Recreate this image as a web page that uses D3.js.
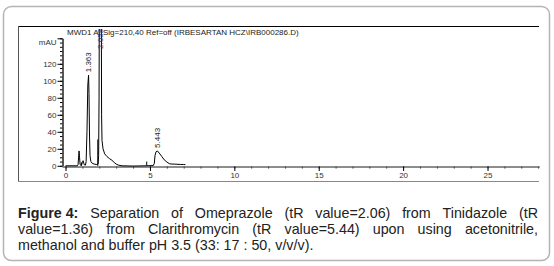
<!DOCTYPE html>
<html>
<head>
<meta charset="utf-8">
<script src="https://cdn.jsdelivr.net/npm/d3@7"></script>
<style>
  body{margin:0;background:#fff}
  svg{display:block;font-family:"Liberation Sans",Arial,sans-serif}
</style>
</head>
<body>
<svg id="chart"></svg>
<script>
// retention time (min) and signal (mAU)
const times = [0, 0.70, 0.74, 0.78, 0.80, 0.83, 0.86, 0.90, 0.95, 1.00, 1.04, 1.08, 1.12, 1.18,
  1.22, 1.27, 1.32, 1.363, 1.39, 1.42, 1.45, 1.50, 1.58, 1.70, 1.85, 1.93, 1.96, 1.985, 2.00,
  2.12, 2.135, 2.16, 2.22, 2.32, 2.45, 2.60, 2.75, 2.88, 3.00, 3.15, 3.35, 4.00, 4.80, 5.20,
  5.26, 5.30, 5.36, 5.443, 5.55, 5.70, 5.85, 6.00, 6.15, 6.30, 6.45, 6.60, 6.80, 7.00, 7.10]
const signal = [0, 0, 1, 12, 17.5, 10, 2, 0.5, 1, 4, 6, 3, 1, 0.8,
  5, 40, 95, 106.5, 85, 35, 12, 5, 3, 2, 1.5, 2, 12, 80, 180,
  180, 60, 30, 20, 14, 11, 8.5, 6.5, 4, 2, 0.7, 0, -0.3, 0, 0.3,
  3, 12, 16.5, 17.5, 15, 11, 7, 4.5, 2.5, 2, 2, 1.8, 1.6, 1.5, 1.4]

const peakTimes = [1.363, 2.058, 5.443]
const peakHeights = [106.5, 180, 17.5]
const peakLabels = ['1.363', '2.058', '5.443']

const markerTimes = [0.94, 1.91, 4.81]
const markerHeights = [4, 31, 5]

const yMajor = [0, 20, 40, 60, 80, 100, 120, 150]
const xMajor = [0, 5, 10, 15, 20, 25]

const title = 'MWD1 A, Sig=210,40 Ref=off (IRBESARTAN HCZ\\IRB000286.D)'
const captionBold = 'Figure 4:'
const captionLines = [
  'Separation of Omeprazole (tR value=2.06) from Tinidazole (tR',
  'value=1.36) from Clarithromycin (tR value=5.44) upon using acetonitrile,',
  'methanol and buffer pH 3.5 (33: 17 : 50, v/v/v).'
]

const width = 554, height = 266
const svg = d3.select('#chart').attr('width', width).attr('height', height)

// outer box
svg.append('rect')
  .attr('x', 3.5).attr('y', 6.5)
  .attr('width', 546).attr('height', 254)
  .attr('rx', 8)
  .attr('fill', 'none')
  .attr('stroke', '#b4b4b4')
  .attr('stroke-width', 1.5)

// chart frame
svg.append('line').attr('x1', 18).attr('x2', 539).attr('y1', 26.5).attr('y2', 26.5)
  .attr('stroke', '#000')
svg.append('line').attr('x1', 18.5).attr('x2', 18.5).attr('y1', 26).attr('y2', 181)
  .attr('stroke', '#555')
svg.append('line').attr('x1', 18).attr('x2', 539).attr('y1', 181.5).attr('y2', 181.5)
  .attr('stroke', '#888')

svg.append('text').text(title)
  .attr('x', 67).attr('y', 35)
  .attr('font-size', '8px')
  .attr('fill', '#222')

let x = d3.scaleLinear().domain([-0.21, 28.05]).range([62, 539])
let y = d3.scaleLinear().domain([0, 150]).range([165.8, 38.3])

// y axis
let yMinor = svg.append('g').attr('transform', 'translate(62.5,0)')
  .call(d3.axisLeft(y).tickValues(d3.range(0, 151, 5)).tickSize(2.5).tickSizeOuter(0).tickFormat(''))
let yAxis = svg.append('g').attr('transform', 'translate(62.5,0)')
  .call(d3.axisLeft(y).tickValues(yMajor).tickSize(5).tickSizeOuter(0)
    .tickFormat(d => d === 150 ? 'mAU' : d))
yAxis.selectAll('text').attr('font-size', '8px').attr('fill', '#333').attr('x', -6)
yAxis.selectAll('.tick').filter(d => d === 150).select('text').attr('dy', '0.75em')
yAxis.selectAll('.domain').attr('stroke', '#222')
yMinor.selectAll('.domain').attr('stroke', '#222')

// x axis
let xMinor = svg.append('g').attr('transform', 'translate(0,166.5)')
  .call(d3.axisBottom(x).tickValues(d3.range(0, 29, 1)).tickSize(2).tickSizeOuter(0).tickFormat(''))
let xAxis = svg.append('g').attr('transform', 'translate(0,166.5)')
  .call(d3.axisBottom(x).tickValues(xMajor).tickSize(4.5).tickSizeOuter(0))
xAxis.selectAll('text').attr('font-size', '8px').attr('fill', '#333').attr('y', 6)
xAxis.selectAll('.domain').attr('stroke', '#666')
xMinor.selectAll('.domain').attr('stroke', '#666')
xMinor.selectAll('line').attr('stroke', '#222')

svg.append('clipPath').attr('id', 'plotClip')
  .append('rect').attr('x', 62).attr('y', 29).attr('width', 477).attr('height', 150)

let line = d3.line()
  .x((d, i) => x(times[i]))
  .y(d => y(d))

svg.append('path')
  .datum(signal)
  .attr('clip-path', 'url(#plotClip)')
  .attr('d', line)
  .attr('fill', 'none')
  .attr('stroke', '#000')
  .attr('stroke-width', 1)

svg.selectAll('.marker').data(markerTimes).enter()
  .append('line').attr('class', 'marker')
  .attr('x1', d => x(d)).attr('x2', d => x(d))
  .attr('y1', y(0)).attr('y2', (d, i) => y(markerHeights[i]))
  .attr('stroke', '#000')

// off-scale peaks get their label pinned to the top of the plot
svg.selectAll('.peakLabel').data(peakTimes).enter()
  .append('text').attr('class', 'peakLabel')
  .attr('transform', (d, i) => {
    let h = peakHeights[i] > 150 ? 134 : peakHeights[i]
    return `translate(${x(d)},${y(h) - 3}) rotate(-90)`
  })
  .attr('dy', '0.35em')
  .attr('font-size', '8px')
  .attr('fill', (d, i) => peakHeights[i] > 150 ? '#335' : '#222')
  .text((d, i) => peakLabels[i])

// caption, justified like the source
let capSize = 14.3
let lineY = [218, 234, 250]
let left = 18, right = 538
let measure = svg.append('text').attr('font-size', capSize + 'px').attr('visibility', 'hidden')
function textWidth(str, bold){
  measure.attr('font-weight', bold ? 'bold' : 'normal').text(str)
  return measure.node().getComputedTextLength()
}

captionLines.forEach((ln, li) => {
  let justify = li < captionLines.length - 1
  if (!justify){
    svg.append('text')
      .attr('x', left).attr('y', lineY[li])
      .attr('font-size', capSize + 'px')
      .attr('fill', '#222')
      .attr('xml:space', 'preserve')
      .text(ln)
    return
  }
  let words = ln.split(' ').map(w => ({text: w, bold: false}))
  if (li === 0) words.unshift({text: captionBold, bold: true})
  let widths = words.map(w => textWidth(w.text, w.bold))
  let gap = (right - left - d3.sum(widths)) / (words.length - 1)
  let cx = left
  words.forEach((w, wi) => {
    svg.append('text')
      .attr('x', cx).attr('y', lineY[li])
      .attr('font-size', capSize + 'px')
      .attr('font-weight', w.bold ? 'bold' : 'normal')
      .attr('fill', '#222')
      .text(w.text)
    cx += widths[wi] + gap
  })
})
measure.remove()
</script>
</body>
</html>
